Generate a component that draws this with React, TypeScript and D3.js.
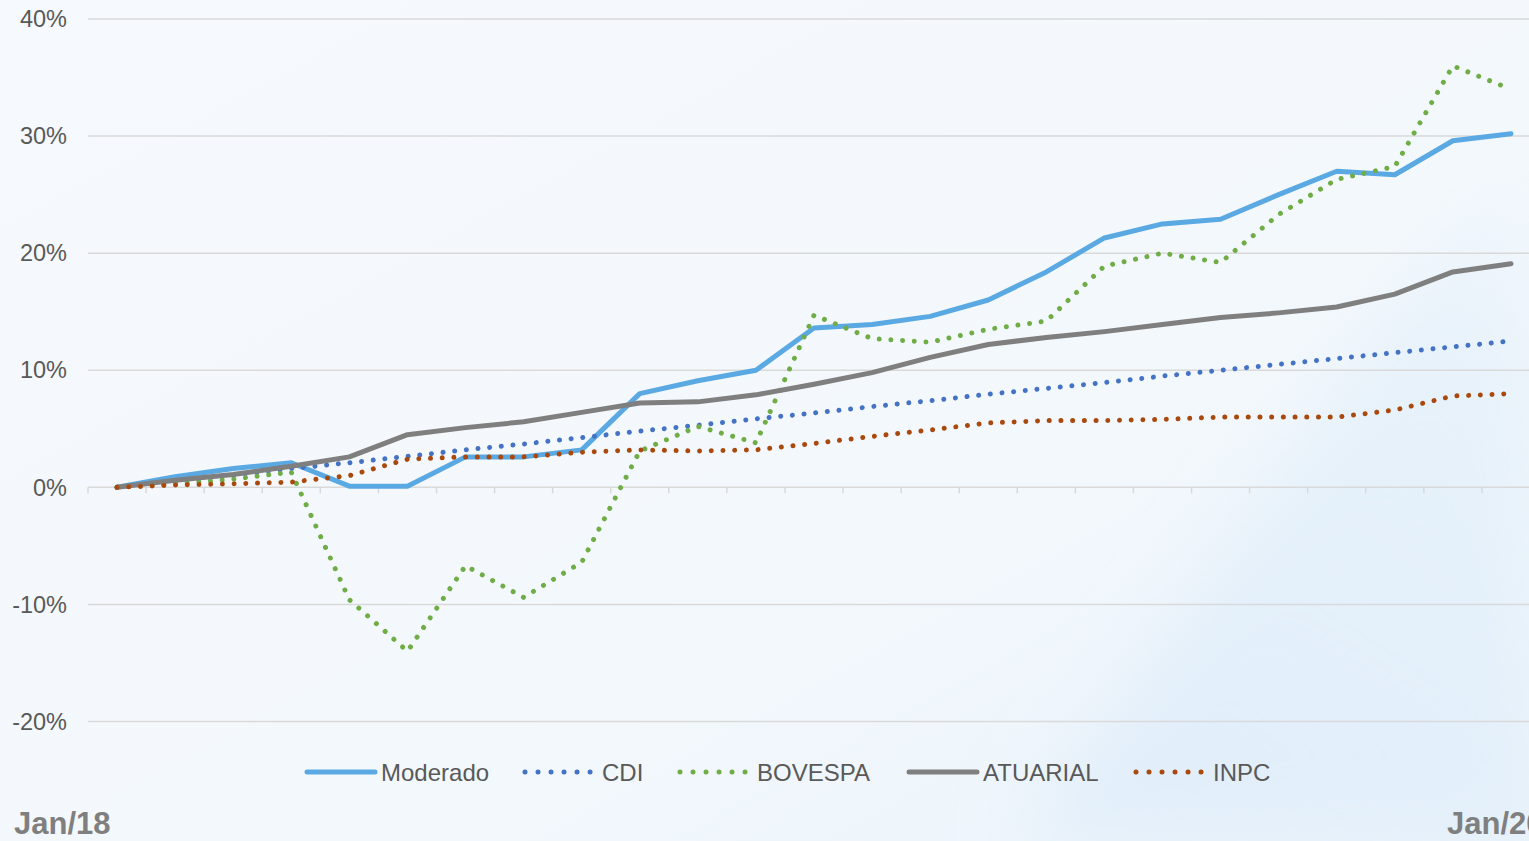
import React from "react";
import * as d3 from "d3";

const months = [
  "Jan/18", "Fev/18", "Mar/18", "Abr/18", "Mai/18", "Jun/18", "Jul/18", "Ago/18", "Set/18", "Out/18", "Nov/18", "Dez/18",
  "Jan/19", "Fev/19", "Mar/19", "Abr/19", "Mai/19", "Jun/19", "Jul/19", "Ago/19", "Set/19", "Out/19", "Nov/19", "Dez/19",
  "Jan/20",
];

const moderado = [0, 0.9, 1.6, 2.1, 0.1, 0.1, 2.6, 2.6, 3.2, 8.0, 9.1, 10.0, 13.6, 13.9, 14.6, 16.0, 18.4, 21.3, 22.5, 22.9, 25.0, 27.0, 26.7, 29.6, 30.2];
const cdi = [0, 0.5, 1.05, 1.6, 2.1, 2.65, 3.2, 3.7, 4.25, 4.8, 5.3, 5.85, 6.35, 6.9, 7.4, 7.95, 8.45, 8.95, 9.5, 10.0, 10.5, 11.0, 11.5, 12.0, 12.5];
const bovespa = [0, 0.3, 0.7, 1.3, -9.6, -14.0, -6.7, -9.4, -6.4, 3.1, 5.2, 3.8, 14.7, 12.7, 12.4, 13.5, 14.2, 18.9, 20.0, 19.2, 23.3, 26.3, 27.4, 36.0, 34.0];
const atuarial = [0, 0.6, 1.1, 1.8, 2.6, 4.5, 5.1, 5.6, 6.4, 7.2, 7.3, 7.9, 8.8, 9.8, 11.1, 12.2, 12.8, 13.3, 13.9, 14.5, 14.9, 15.4, 16.5, 18.4, 19.1];
const inpc = [0, 0.2, 0.3, 0.45, 1.0, 2.4, 2.6, 2.6, 3.0, 3.2, 3.1, 3.2, 3.75, 4.35, 4.9, 5.5, 5.7, 5.7, 5.8, 6.0, 6.0, 6.0, 6.6, 7.8, 8.0];

const yTicks = [-20, -10, 0, 10, 20, 30, 40];
const edgeLabels = ["Jan/18", "Jan/20"];

const seriesNames = ["Moderado", "CDI", "BOVESPA", "ATUARIAL", "INPC"];
const seriesValues = [moderado, cdi, bovespa, atuarial, inpc];
const seriesColors = ["#5aa9e2", "#4472c4", "#70ad47", "#7f7f7f", "#a9490e"];
const seriesDotted = [false, true, true, false, true];

const W = 1529;
const H = 841;
const FONT = "'Liberation Sans', Arial, sans-serif";

export default function App() {
  const x = d3
    .scaleBand<number>()
    .domain(months.map((_, i) => i))
    .range([88, 88 + 25 * 58.08])
    .paddingInner(0)
    .paddingOuter(0);
  const cx = (i: number) => (x(i) as number) + x.bandwidth() / 2;
  const y = d3.scaleLinear().domain([-20, 40]).range([721.5, 19]);

  const line = d3
    .line<number>()
    .x((_, i) => cx(i))
    .y((v) => y(v));

  const [x0, x1] = x.range();
  const boundaries = d3.range(months.length + 1).map((i) => x0 + i * x.bandwidth());

  const legendX = [305, 523, 678, 907, 1134];
  const legendY = 772;

  return (
    <div style={{ position: "fixed", left: 0, top: 0, width: W, height: H, overflow: "hidden" }}>
      <svg width={W} height={H} style={{ display: "block" }}>
        <defs>
          <linearGradient id="bg" x1="0" y1="0" x2="1" y2="1">
            <stop offset="0" stopColor="#f6f9fd" />
            <stop offset="0.6" stopColor="#f3f8fc" />
            <stop offset="1" stopColor="#eaf3fb" />
          </linearGradient>
          <linearGradient id="streak" x1="1050" y1="841" x2="1529" y2="80" gradientUnits="userSpaceOnUse">
            <stop offset="0" stopColor="#e0edf9" stopOpacity="0.95" />
            <stop offset="0.7" stopColor="#e4f0fa" stopOpacity="0.75" />
            <stop offset="1" stopColor="#eef5fc" stopOpacity="0" />
          </linearGradient>
          <filter id="blur" x="-20%" y="-20%" width="140%" height="140%">
            <feGaussianBlur stdDeviation="35" />
          </filter>
        </defs>
        <rect x={0} y={0} width={W} height={H} fill="url(#bg)" />
        <polygon points={`1020,841 1529,120 1529,841`} fill="url(#streak)" filter="url(#blur)" />

        {/* gridlines */}
        {yTicks.map((t) => (
          <line key={t} x1={x0} x2={x1} y1={y(t)} y2={y(t)} stroke="#d9d9d9" strokeWidth={1.5} />
        ))}
        {/* category ticks on zero axis */}
        {boundaries.map((bx, i) => (
          <line key={i} x1={bx} x2={bx} y1={y(0)} y2={y(0) + 6} stroke="#d9d9d9" strokeWidth={1.5} />
        ))}

        {/* y labels */}
        {yTicks.map((t) => (
          <text
            key={t}
            x={67}
            y={y(t)}
            dy="0.35em"
            textAnchor="end"
            fontFamily={FONT}
            fontSize={23.5}
            fill="#595959"
          >
            {`${t}%`}
          </text>
        ))}

        {/* series */}
        {seriesValues.map((vals, s) => (
          <path
            key={seriesNames[s]}
            d={line(vals) || ""}
            fill="none"
            stroke={seriesColors[s]}
            strokeWidth={5}
            strokeLinecap="round"
            strokeLinejoin="round"
            strokeDasharray={seriesDotted[s] ? "0.01 11.7" : undefined}
          />
        ))}

        {/* legend */}
        {seriesNames.map((name, s) => {
          const lx = legendX[s];
          const dotted = seriesDotted[s];
          return (
            <g key={name}>
              <line
                x1={lx + 2}
                x2={dotted ? lx + 68 : lx + 70}
                y1={legendY}
                y2={legendY}
                stroke={seriesColors[s]}
                strokeWidth={5}
                strokeLinecap="round"
                strokeDasharray={dotted ? "0.01 13" : undefined}
              />
              <text
                x={dotted ? lx + 79 : lx + 76}
                y={legendY}
                dy="0.36em"
                fontFamily={FONT}
                fontSize={24}
                fill="#595959"
              >
                {name}
              </text>
            </g>
          );
        })}

        {/* edge date labels */}
        <text x={14} y={834} fontFamily={FONT} fontSize={31} fontWeight="bold" fill="#7f7f7f">
          {edgeLabels[0]}
        </text>
        <text x={1447} y={834} fontFamily={FONT} fontSize={31} fontWeight="bold" fill="#7f7f7f">
          {edgeLabels[1]}
        </text>
      </svg>
    </div>
  );
}
